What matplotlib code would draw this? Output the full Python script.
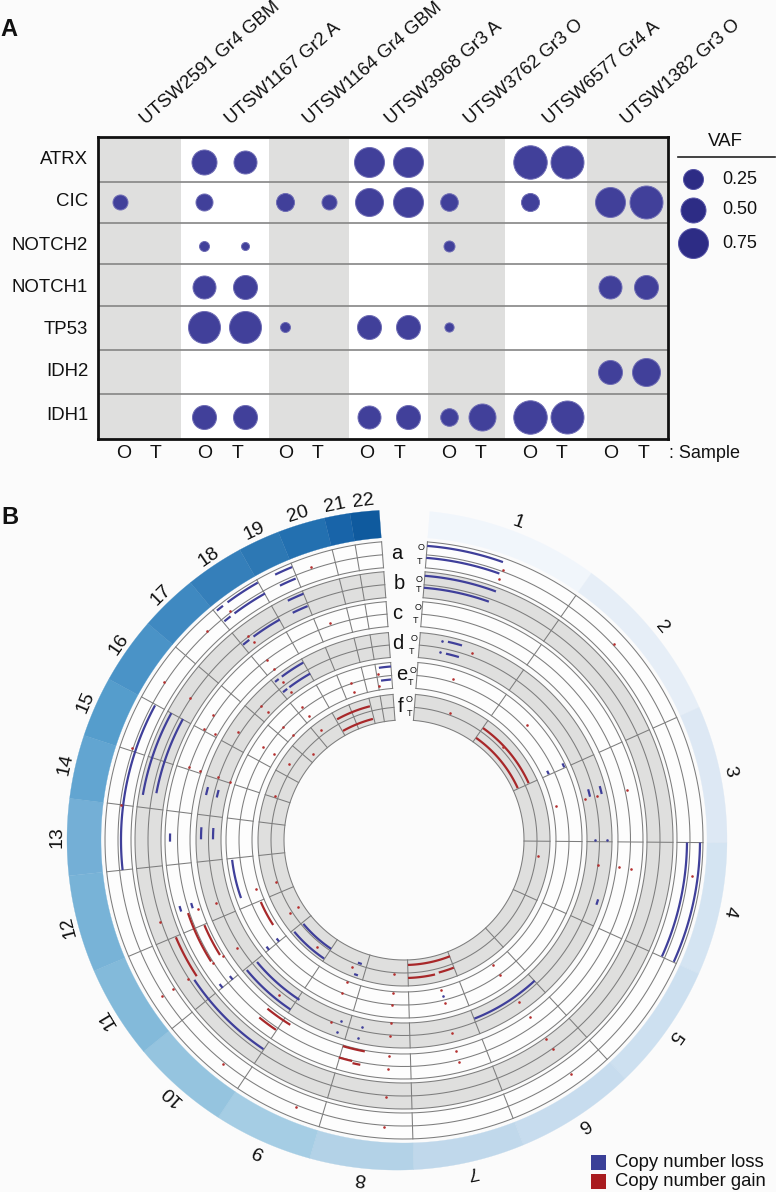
import numpy as np
import matplotlib
matplotlib.use('Agg')
import matplotlib.pyplot as plt
from matplotlib.patches import Rectangle

plt.rcParams['font.family'] = ['Liberation Sans', 'DejaVu Sans']

W, H = 776, 1192
BG = '#fbfbfb'

# Panel A data
samples = ['UTSW2591 Gr4 GBM', 'UTSW1167 Gr2 A', 'UTSW1164 Gr4 GBM', 'UTSW3968 Gr3 A',
           'UTSW3762 Gr3 O', 'UTSW6577 Gr4 A', 'UTSW1382 Gr3 O']
genes = ['ATRX', 'CIC', 'NOTCH2', 'NOTCH1', 'TP53', 'IDH2', 'IDH1']
vaf_atrx = [0, 0, .5, .4, 0, 0, .75, .75, 0, 0, .925, .9, 0, 0]
vaf_cic = [.167, 0, .2, 0, .217, .167, .65, .75, .21, 0, .217, 0, .75, .9]
vaf_notch2 = [0, 0, .083, .05, 0, 0, 0, 0, .1, 0, 0, 0, 0, 0]
vaf_notch1 = [0, 0, .4, .45, 0, 0, 0, 0, 0, 0, 0, 0, .4, .45]
vaf_tp53 = [0, 0, .85, .85, .083, 0, .45, .45, .07, 0, 0, 0, 0, 0]
vaf_idh2 = [0, 0, 0, 0, 0, 0, 0, 0, 0, 0, 0, 0, .45, .65]
vaf_idh1 = [0, 0, .45, .45, 0, 0, .4, .45, .21, .6, .925, .9, 0, 0]
vaf_rows = [vaf_atrx, vaf_cic, vaf_notch2, vaf_notch1, vaf_tp53, vaf_idh2, vaf_idh1]
legend_vaf = [0.25, 0.50, 0.75]

# Panel A layout (axes units follow the image)
sample_edges = [97.5, 181, 269, 348.5, 428, 505, 587, 668]
row_edges = [137, 182, 223, 264, 306, 350, 394, 439]
dot_x = [120, 155, 203.5, 245, 285, 329, 369, 408, 449, 481.7, 530, 566.5, 610, 646]
dot_y = [161.5, 202, 246, 287, 327, 372, 417]
gene_y = [160, 202, 245, 287, 330, 372, 416]
label_x = [124, 155.5, 204.5, 238, 286, 318, 367, 400, 449, 481, 530, 562, 611, 643.5]
name_x = [146, 231, 309, 391, 470, 549, 627]

# Panel B data: chromosome edges in degrees clockwise from the top
chroms = [str(i) for i in range(1, 23)]
chrom_edges = [4.5, 35.1, 65.8, 90.5, 114.4, 137.2, 158.6, 178.3, 196.5, 213.8, 230.9,
               247.1, 263.9, 277.1, 288.1, 298.6, 310.2, 320.3, 330.5, 337.8, 346.1,
               350.6, 355.7]
chrom_colors = ['#f1f6fb', '#e6eef7', '#dde8f4', '#d4e4f2', '#cde0f0', '#c7dcee', '#c0d8eb',
                '#b3d2e7', '#a5cde4', '#95c4df', '#83bada', '#78b3d7', '#74afd6', '#62a5d1',
                '#559dcc', '#4a93c7', '#3f89c1', '#357fba', '#2d78b4', '#2370b0', '#1864a9',
                '#0f5a9e']
ring_names = ['a', 'b', 'c', 'd', 'e', 'f']
ring_outer = [299, 269, 239, 208, 178, 146]
ring_mid = [286, 256, 226.5, 195.5, 165, 133]
ring_inner = [273, 243, 214, 183, 152, 120]
ring_grey = [False, True, False, True, False, True]

# (start deg, end deg, radius)
loss_arcs = [
    (4.5, 19.6, 295), (4.5, 19.7, 283), (90.5, 114.3, 296), (90.5, 114.3, 283), (263.9, 298.4, 283),
    (320.8, 322.3, 296), (323.4, 330.4, 296), (320.6, 322.2, 283), (323.2, 330.6, 283),
    (334.1, 337.7, 295), (334, 337.5, 283),
    (4.5, 20.3, 265), (4.5, 19.6, 253), (279.8, 298.6, 265), (280.7, 298.7, 252),
    (334.1, 337.8, 266), (333.9, 337.6, 253), (323.5, 330.6, 253), (320.5, 322.3, 253),
    (213.9, 236.3, 252),
    (269.6, 271.6, 234), (252.2, 253.6, 234), (252.1, 253.5, 222), (230.8, 232, 234), (230.8, 232, 221),
    (12.5, 16.6, 203), (12.7, 16.7, 191), (74.6, 76.9, 191), (74.6, 76.9, 203),
    (270.2, 273.6, 203), (270.2, 273.6, 191), (282.8, 285.1, 203), (282.8, 285.1, 192),
    (323.2, 330.4, 204), (323.1, 330.6, 191), (320.8, 322.1, 204), (320.7, 322.3, 191),
    (213.8, 230.4, 204), (213.2, 230.3, 191), (107, 108.6, 203), (137.1, 158.5, 192),
    (351.7, 355.7, 174), (351.8, 355.4, 161), (64.2, 65.6, 159), (64.2, 65.6, 176),
    (250.4, 263.4, 173), (230.8, 232.2, 174), (230.9, 232.3, 161),
    (213.8, 230.2, 131), (214, 230.1, 143), (198.8, 200.6, 131), (198.8, 200.4, 143),
]
gain_arcs = [
    (35.2, 65.5, 137), (35.2, 65.5, 125), (331, 345.7, 138), (330.8, 345.6, 125),
    (158.4, 178.2, 125), (167, 178.3, 138), (158.7, 165.3, 137),
    (190.5, 196.5, 215), (193.2, 196.7, 227), (191, 193, 229),
    (211.6, 219, 217), (214, 219.2, 229), (237.8, 251.3, 228), (238, 246.9, 217),
    (236.7, 246.9, 248), (237, 246.6, 156),
]
# (deg, radius)
gain_dots = [
    (341.2, 288), (20.1, 288), (20, 278), (47, 287), (97.1, 290), (144.5, 287), (202, 288), (184, 288),
    (218.9, 288), (288.7, 287), (303.4, 287), (316.7, 287), (277, 285), (237.2, 288), (237.3, 275),
    (303.6, 257), (322.8, 288), (288.8, 227), (288.7, 215), (288.7, 196), (288.4, 183),
    (303.2, 228), (299, 229), (299.3, 217), (322.7, 226), (322.8, 215), (341.2, 229),
    (303, 198), (313, 196), (313.3, 187), (322.6, 199), (322.6, 186), (322.7, 257), (322.8, 248),
    (20, 199), (77.3, 186), (77.2, 198), (77.4, 156), (77.4, 229), (97.3, 196), (97.2, 217), (97.3, 229),
    (351.1, 168), (350.8, 156), (341.4, 166), (341.3, 156), (322.5, 168), (322.5, 156),
    (303.4, 169), (303.5, 156), (313, 166), (313.4, 153),
    (323, 138), (313.4, 125), (303.4, 138), (288.8, 136), (20, 135),
    (251.5, 198), (251.4, 257), (237, 199), (251.7, 156), (237.4, 135), (237.7, 125), (251.8, 135),
    (219, 138), (219, 199), (237.2, 227), (237.3, 215), (251.5, 217), (237.2, 257),
    (202, 196), (202, 165), (202, 153), (184, 153), (184, 165), (184.3, 134), (202.2, 137),
    (184, 183), (184, 196), (184, 217), (184, 229.5), (184, 257.6),
    (166, 155), (166, 168), (166, 199), (166, 217), (166, 229),
    (144.6, 199), (144.6, 217), (144.5, 244), (144.5, 257), (144.6, 166), (144.5, 153),
    (97, 135), (46.8, 136), (46.9, 168), (16.9, 168),
]
loss_dots = [(10.8, 203), (10.8, 191), (90, 191), (90, 203), (199.2, 192), (199.2, 203),
             (192.7, 192), (193.1, 203), (166, 161)]
# O and T marks at the start of each ring: (deg, radius)
o_marks = [(3.3, 292.5), (3.3, 261), (3.4, 233), (2.8, 202), (3.0, 170), (2.0, 141)]
t_marks = [(3.1, 279), (3.2, 251), (3.1, 220), (2.4, 189), (2.5, 158), (2.3, 127)]
ring_letters = [(-1.5, 287), (-1.1, 257), (-1.6, 227), (-1.7, 197), (-0.9, 166), (-1.4, 134)]

C_LOSS = '#3f3f9a'
C_GAIN = '#a8282a'
C_LINE = '#7d7d7d'
C_GREY = '#dfdfde'


def box(x0, y0, x1, y1):
    # image pixels to figure fractions
    return [x0 / W, 1 - y1 / H, (x1 - x0) / W, (y1 - y0) / H]


def vaf_diam(v):
    return np.interp(v, [0.05, 0.25, 0.75, 1.0], [8, 20, 30, 35])


def arc(ax, t0, t1, r, **kw):
    t = np.radians(np.linspace(t0, t1, max(int(abs(t1 - t0) * 2), 2)))
    ax.plot(t, np.full_like(t, r), **kw)


fig = plt.figure(figsize=(W / 100, H / 100), dpi=100, facecolor=BG)

# Panel A
ax = fig.add_axes(box(97.5, 137, 668, 439))
ax.set_xlim(97.5, 668)
ax.set_ylim(439, 137)
ax.set_facecolor('white')
for i in range(len(samples)):
    if i % 2 == 0:
        ax.axvspan(sample_edges[i], sample_edges[i + 1], color=C_GREY, lw=0, zorder=0)
for y in row_edges[1:-1]:
    ax.axhline(y, color='#858585', lw=1.2, zorder=1)
for j, row in enumerate(vaf_rows):
    for i, v in enumerate(row):
        if v > 0:
            d = vaf_diam(v) * 0.72
            ax.scatter(dot_x[i], dot_y[j], s=d ** 2, color='#41409a', edgecolors='#6f6db5',
                       linewidths=0.7, zorder=3, clip_on=False)
ax.set_xticks([])
ax.set_yticks([])
for s in ax.spines.values():
    s.set_linewidth(2)
    s.set_color('#111111')
for g, y in zip(genes, gene_y):
    ax.text(88, y, g, ha='right', va='center', fontsize=13.4, color='#111111')
for i, x in enumerate(label_x):
    ax.text(x, 454, 'OT'[i % 2], ha='center', va='center', fontsize=14, color='#111111')
ax.text(669, 454, ': Sample', ha='left', va='center', fontsize=13, color='#111111')
for name, x in zip(samples, name_x):
    ax.text(x, 125, name, rotation=41, rotation_mode='anchor', ha='left', va='baseline',
            fontsize=13.3, color='#111111')

# VAF legend
ax.text(725, 142, 'VAF', ha='center', va='center', fontsize=13.5, color='#111111')
ax.plot([678, 775], [157, 157], color='#222222', lw=1.2, clip_on=False)
for v, y in zip(legend_vaf, [179, 210, 243]):
    d = vaf_diam(v) * 0.72
    ax.scatter(693, y, s=d ** 2, color='#2d2c85', edgecolors='#5755a8', linewidths=0.7, clip_on=False)
    ax.text(740, y, f'{v:.2f}', ha='center', va='center', fontsize=13, color='#111111')

# Panel B
R_MAX = 400
pol = fig.add_axes(box(404 - R_MAX, 840 - R_MAX, 404 + R_MAX, 840 + R_MAX), projection='polar')
pol.set_theta_zero_location('N')
pol.set_theta_direction(-1)
pol.set_ylim(0, R_MAX)
pol.axis('off')
pol.patch.set_alpha(0)

# outer band, its outer edge sits on a circle shifted left
for i, c in enumerate(chroms):
    t0, t1 = chrom_edges[i], chrom_edges[i + 1]
    t = np.linspace(t0, t1, 40)
    rad = np.radians(t)
    outer = 330 - 7 * np.sin(rad)
    pol.fill(np.r_[rad, rad[::-1]], np.r_[outer, np.full_like(rad, 303)],
             color=chrom_colors[i], lw=0.2)
    mid = (t0 + t1) / 2
    pol.text(np.radians(mid), 340 - 7 * np.sin(np.radians(mid)), c, rotation=-mid,
             rotation_mode='anchor', ha='center', va='center', fontsize=14, color='#111111')

start, end = chrom_edges[0], chrom_edges[-1]
for k in range(6):
    fill = C_GREY if ring_grey[k] else '#fdfdfd'
    pol.bar(np.radians((start + end) / 2), ring_outer[k] - ring_inner[k], np.radians(end - start),
            bottom=ring_inner[k], color=fill, lw=0, zorder=1)
    for r in (ring_outer[k], ring_mid[k], ring_inner[k]):
        arc(pol, start, end, r, color=C_LINE, lw=0.75, zorder=2)
    for e in chrom_edges:
        pol.plot([np.radians(e)] * 2, [ring_inner[k], ring_outer[k]], color=C_LINE, lw=0.75, zorder=2)
    pol.text(np.radians(ring_letters[k][0]), ring_letters[k][1], ring_names[k], ha='center', va='center',
             fontsize=14.5, color='#111111')
    pol.text(np.radians(o_marks[k][0]), o_marks[k][1], 'O', ha='center', va='center', fontsize=6.5,
             color='#111111')
    pol.text(np.radians(t_marks[k][0]), t_marks[k][1], 'T', ha='center', va='center', fontsize=6.5,
             color='#111111')

for t0, t1, r in loss_arcs:
    arc(pol, t0, t1, r, color=C_LOSS, lw=1.6, zorder=4, solid_capstyle='butt')
for t0, t1, r in gain_arcs:
    arc(pol, t0, t1, r, color=C_GAIN, lw=1.6, zorder=4, solid_capstyle='butt')
gd = np.array(gain_dots)
pol.scatter(np.radians(gd[:, 0]), gd[:, 1], s=3.5, color='#b5302f', linewidths=0, zorder=5)
ld = np.array(loss_dots)
pol.scatter(np.radians(ld[:, 0]), ld[:, 1], s=3.5, color=C_LOSS, linewidths=0, zorder=5)

# copy number legend and panel letters
for y0, col, lab in [(1155, '#3a3f97', 'Copy number loss'), (1174, '#a91c20', 'Copy number gain')]:
    x, y, w, h = box(591, y0, 606, y0 + 15)
    fig.add_artist(Rectangle((x, y), w, h, transform=fig.transFigure, color=col, lw=0))
    fig.text(615 / W, 1 - (y0 + 7.5) / H, lab, ha='left', va='center', fontsize=13.3, color='#111111')
fig.text(0 / W, 1 - 29 / H, 'A', ha='left', va='center', fontsize=17, fontweight='bold', color='#111111')
fig.text(1 / W, 1 - 518 / H, 'B', ha='left', va='center', fontsize=17, fontweight='bold', color='#111111')

fig.savefig('out.png', dpi=100, facecolor=BG)
